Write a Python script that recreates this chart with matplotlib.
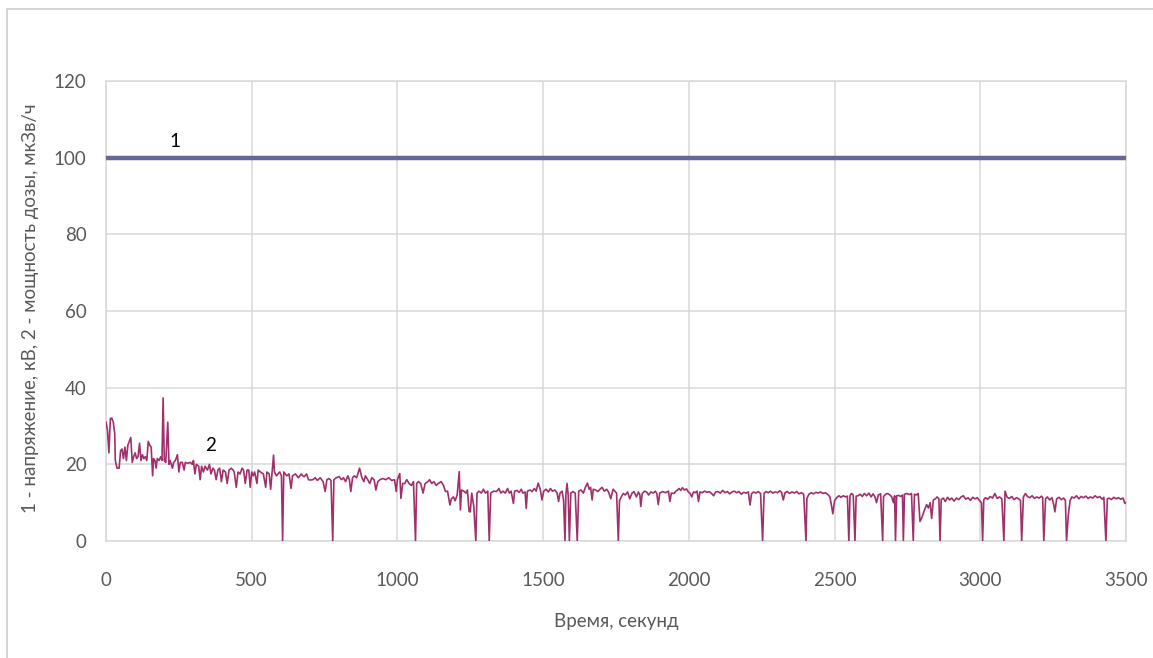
import matplotlib
matplotlib.use("Agg")
import matplotlib.pyplot as plt
from matplotlib.patches import Rectangle

plt.rcParams['font.family'] = ['Lato', 'Open Sans', 'DejaVu Sans']

# Series 1: voltage, kV
t1 = [0, 3500]
v1 = [100, 100]

# Series 2: dose rate, uSv/h
t2 = [0, 5, 10, 15, 20, 25, 30, 32, 38, 45, 50, 55, 60, 65, 70, 75, 85, 90, 95, 100,
      105, 110, 115, 120, 125, 130, 135, 140, 145, 150, 155, 160, 163, 168, 172, 176, 182, 188, 192, 196,
      200, 205, 212, 216, 220, 228, 232, 238, 245, 250, 255, 262, 268, 272, 280, 290, 296, 300, 305, 310,
      318, 323, 328, 334, 340, 348, 355, 360, 367, 372, 378, 384, 390, 396, 402, 410, 416, 422, 430, 436,
      440, 447, 453, 460, 467, 472, 478, 484, 490, 495, 500, 505, 510, 518, 522, 530, 540, 548, 552, 560,
      565, 570, 575, 578, 585, 590, 596, 602, 606, 610, 620, 628, 635, 640, 650, 660, 670, 675, 680, 688,
      695, 702, 710, 718, 725, 735, 745, 752, 758, 765, 772, 778, 782, 790, 800, 808, 815, 822, 830, 835,
      840, 846, 852, 860, 870, 878, 885, 890, 898, 905, 912, 920, 926, 933, 940, 950, 960, 970, 980, 990,
      996, 1000, 1008, 1012, 1018, 1025, 1032, 1040, 1048, 1055, 1062, 1066, 1072, 1080, 1088, 1095, 1105, 1110, 1118, 1125,
      1133, 1140, 1150, 1158, 1165, 1172, 1180, 1185, 1192, 1198, 1205, 1212, 1216, 1220, 1228, 1235, 1240, 1246, 1250, 1255,
      1262, 1269, 1273, 1280, 1288, 1295, 1302, 1310, 1315, 1320, 1330, 1340, 1348, 1355, 1362, 1370, 1378, 1384, 1390, 1398,
      1402, 1410, 1418, 1425, 1430, 1438, 1442, 1446, 1455, 1462, 1470, 1476, 1483, 1490, 1496, 1502, 1510, 1518, 1525, 1532,
      1540, 1548, 1553, 1558, 1565, 1570, 1575, 1578, 1582, 1586, 1590, 1595, 1602, 1610, 1617, 1622, 1630, 1638, 1645, 1652,
      1658, 1663, 1668, 1672, 1680, 1688, 1695, 1702, 1710, 1718, 1725, 1732, 1740, 1746, 1752, 1758, 1762, 1768, 1775, 1782,
      1790, 1797, 1805, 1812, 1820, 1827, 1832, 1835, 1840, 1848, 1855, 1862, 1870, 1878, 1885, 1890, 1895, 1900, 1910, 1920,
      1930, 1935, 1940, 1950, 1955, 1960, 1966, 1972, 1978, 1985, 1992, 1998, 2004, 2010, 2016, 2022, 2028, 2033, 2038, 2046,
      2054, 2062, 2070, 2078, 2085, 2092, 2100, 2108, 2116, 2124, 2132, 2140, 2148, 2156, 2164, 2172, 2180, 2188, 2196, 2204,
      2210, 2215, 2222, 2230, 2238, 2246, 2253, 2258, 2265, 2272, 2280, 2288, 2296, 2304, 2312, 2318, 2324, 2330, 2338, 2346,
      2354, 2362, 2370, 2378, 2386, 2394, 2402, 2405, 2412, 2420, 2428, 2436, 2444, 2452, 2460, 2468, 2476, 2484, 2490, 2494,
      2500, 2507, 2515, 2522, 2530, 2538, 2544, 2549, 2553, 2558, 2564, 2570, 2574, 2580, 2588, 2595, 2602, 2610, 2618, 2625,
      2632, 2638, 2644, 2650, 2658, 2665, 2668, 2675, 2682, 2690, 2696, 2702, 2706, 2709, 2713, 2720, 2728, 2733, 2736, 2740,
      2748, 2756, 2764, 2770, 2774, 2780, 2787, 2793, 2800, 2808, 2816, 2822, 2828, 2833, 2839, 2846, 2852, 2858, 2862, 2866,
      2873, 2880, 2888, 2895, 2902, 2910, 2918, 2926, 2934, 2942, 2950, 2958, 2966, 2974, 2982, 2990, 2998, 3004, 3008, 3012,
      3018, 3026, 3034, 3042, 3050, 3058, 3066, 3074, 3081, 3085, 3092, 3100, 3108, 3116, 3124, 3132, 3138, 3142, 3148, 3155,
      3162, 3170, 3178, 3186, 3194, 3202, 3210, 3214, 3218, 3224, 3230, 3238, 3246, 3252, 3256, 3262, 3270, 3278, 3286, 3292,
      3296, 3302, 3308, 3314, 3322, 3330, 3338, 3346, 3354, 3362, 3370, 3378, 3386, 3394, 3402, 3410, 3418, 3424, 3431, 3436,
      3442, 3450, 3458, 3466, 3474, 3482, 3490, 3496, 3500]
v2 = [31, 29, 23, 32, 32, 31, 28, 21, 19, 19, 23.5, 24, 21.5, 24.5, 21, 25, 27, 20.5, 22, 23,
      21.5, 22, 25.5, 21, 22.5, 21.5, 22, 21, 26, 25, 24.5, 17, 21.5, 21, 19, 21.5, 21, 22, 21, 37.3,
      21, 20.5, 31, 20, 21, 19, 20.5, 21, 22.5, 18, 20.5, 20.5, 18.5, 20.5, 20.3, 20.5, 20, 21, 17.5, 20,
      19.5, 16, 19.5, 18, 19.5, 18.5, 20, 17.5, 19, 18.5, 16, 18.5, 19, 15.5, 18.5, 18, 15, 18.5, 19, 18.5,
      18, 14, 18, 17.5, 19, 18.5, 15, 18.5, 18.5, 14, 18, 17, 18, 15, 18.5, 18, 17.5, 14, 18, 17.5,
      13.5, 18, 22.4, 18, 17, 17.5, 18, 17, 0, 18, 17, 17.5, 13.7, 17, 17.5, 16.5, 17.5, 17, 16.8, 17.5,
      16, 15.9, 16, 16.5, 15.8, 16.5, 15.5, 12.9, 16, 16.3, 15.8, 0, 16, 16.5, 16.8, 16, 16.5, 15.5, 17, 16,
      12.9, 16.5, 17, 16.5, 19, 16.5, 15.5, 17, 16, 15, 16.5, 16, 13.3, 15.5, 16, 16.3, 16, 16.5, 15.8, 16,
      12.9, 16, 17.6, 11.1, 15, 15, 16, 15, 14.5, 15.5, 0, 15, 15.5, 15, 12.5, 15, 15.5, 16, 15, 15.5,
      14.5, 15, 15.5, 14.5, 12.9, 13, 9.4, 11, 11.5, 10.5, 12, 18.1, 8.1, 13.3, 13, 12.5, 13.3, 7.7, 7.6, 12.5,
      9, 0, 12.5, 13, 12.5, 13.5, 12.5, 13, 0, 12.5, 13, 12.9, 13.7, 12.5, 13, 12.5, 13.7, 12.5, 13, 9.8,
      13, 13.2, 12.7, 13.5, 12.5, 12.8, 8.5, 13, 13.3, 12.9, 13.7, 13, 15.1, 13.5, 10.7, 13, 13.5, 12.8, 13.7, 13,
      13.3, 12.5, 10.3, 12.5, 13, 10.7, 0, 12, 15, 12, 0, 12.5, 12.9, 12.5, 0, 13, 13.3, 12.5, 14, 15.1,
      13.5, 14, 10.7, 13.5, 13.3, 12.9, 13.5, 14, 13, 13.5, 12.7, 11, 13.5, 13, 12.5, 0, 10.5, 11.5, 12.4, 12,
      12.8, 11, 12.5, 12.9, 11.5, 12.8, 12, 9, 12.4, 13, 12.8, 12, 12.8, 12.5, 13, 12.4, 9.5, 12.5, 12.9, 12.6,
      13, 10.3, 12.5, 12.4, 13, 13.2, 13.7, 13.2, 13.9, 13.3, 13.6, 12.8, 12.5, 11.5, 12.8, 12.6, 13, 10.3, 12.8, 12.6,
      13, 12.7, 12.9, 12.4, 11.8, 12.8, 12.9, 12.5, 13.2, 12.6, 12.9, 12.3, 12.8, 13, 12.6, 12.9, 12.2, 12.7, 12.5, 12.8,
      9.4, 12.3, 12.8, 12.5, 12.9, 12.4, 0, 12.4, 12.9, 12.6, 13, 12.5, 12.8, 12.6, 13.1, 12.7, 10.7, 12.6, 12.9, 12.4,
      12.8, 12.5, 12.9, 12.3, 12.6, 12.2, 0, 11.1, 12.2, 12.6, 12.3, 12.7, 12.5, 12.8, 12.4, 12.6, 12.2, 11.5, 9, 7.1,
      10.5, 11.3, 11.8, 11.4, 11.8, 11.5, 11.7, 0, 11.8, 12.4, 12, 0, 11.7, 11.8, 12.2, 11.6, 12.4, 11.8, 12.5, 11.5,
      12.3, 11.6, 10, 12, 12.3, 0, 11.6, 12.2, 12.4, 12, 11.5, 10, 11.8, 0, 11.8, 11.9, 11.6, 12, 0, 12.2,
      12.4, 12.1, 12.4, 0, 12.2, 12, 12.4, 5.1, 6.2, 8, 9.5, 8.6, 10, 5.9, 10.7, 11, 11.5, 11, 0, 10.8,
      11.2, 10.3, 11.4, 10.7, 11.2, 10.4, 11.2, 10.8, 11.5, 11.8, 10.9, 11.3, 10.6, 11.4, 11, 11.3, 10.5, 10, 0, 10.8,
      11.3, 10.9, 11.6, 11.2, 12.4, 11.1, 11.5, 11, 0, 13, 11.4, 11.1, 11.6, 10.8, 11.3, 11, 10.5, 0, 11.5, 12.4,
      11.6, 11.3, 11.8, 11.1, 11.5, 11.2, 11.7, 11.3, 0, 11, 11.5, 10.7, 11.3, 9.5, 7.6, 11, 11.4, 10.8, 11.2, 10.6,
      0, 6.8, 10.5, 11.5, 11.2, 11.8, 11, 11.6, 11.3, 11.7, 11.1, 11.5, 11.2, 11.8, 11.3, 11.6, 10.9, 11.4, 0, 11,
      11.2, 10.8, 11.4, 11, 11.3, 10.9, 11.2, 9.8, 10]

x_ticks = [0, 500, 1000, 1500, 2000, 2500, 3000, 3500]
y_ticks = [0, 20, 40, 60, 80, 100, 120]
x_label = "Время, секунд"
y_label = "1 - напряжение, кВ, 2 - мощность дозы, мкЗв/ч"
label1 = ("1", 237, 104.2)
label2 = ("2", 358, 24.9)

W, H = 1153, 658
fig = plt.figure(figsize=(W / 100, H / 100), dpi=100)
fig.patch.set_facecolor('white')

# outer chart border
fig.patches.append(Rectangle((7 / W, -0.1), 1.2, 1.1 - 9 / H, transform=fig.transFigure,
                             fill=False, edgecolor='#D0D0D0', linewidth=1.3, zorder=0))

ax = fig.add_axes([106 / W, 1 - 541 / H, (1126 - 106) / W, (541 - 81) / H])
ax.set_xlim(0, 3500)
ax.set_ylim(0, 120)
ax.set_xticks(x_ticks)
ax.set_yticks(y_ticks)
ax.grid(True, color='#D9D9D9', linewidth=1.1)
ax.set_axisbelow(True)
for s in ax.spines.values():
    s.set_color('#D9D9D9')
    s.set_linewidth(1.1)
ax.tick_params(length=0, labelsize=13.5, labelcolor='#595959')
ax.tick_params(axis='x', pad=22)
ax.tick_params(axis='y', pad=14)

ax.plot(t1, v1, color='#666699', linewidth=3.2, solid_capstyle='butt', zorder=3)
ax.plot(t2, v2, color='#A0306A', linewidth=1.2, zorder=4)

ax.text(label1[1], label1[2], label1[0], fontsize=13.5, color='black', ha='center', va='center')
ax.text(label2[1], label2[2], label2[0], fontsize=13.5, color='black', ha='center', va='center')

fig.text(616 / W, 1 - 621 / H, x_label, fontsize=13.5, color='#595959', ha='center', va='center')
fig.text(31 / W, 1 - 308 / H, y_label, fontsize=13.5, color='#595959', ha='center', va='center',
         rotation=90)

fig.savefig('out.png', dpi=100)
